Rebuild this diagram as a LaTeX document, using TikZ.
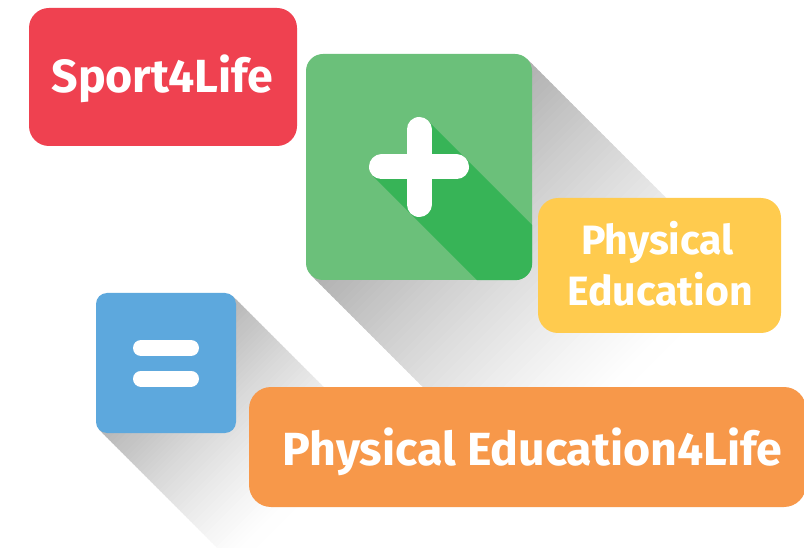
\documentclass[tikz,border=0pt]{standalone}
\usepackage{fontspec}
\setmainfont{Fira Sans}
\usetikzlibrary{calc}
\definecolor{redc}{HTML}{EF4150}
\definecolor{greenl}{HTML}{6BC07A}
\definecolor{greend}{HTML}{37B457}
\definecolor{yellowc}{HTML}{FFCB4E}
\definecolor{bluec}{HTML}{5DA8DD}
\definecolor{orangec}{HTML}{F7984A}
\begin{document}
\begin{tikzpicture}[x=1pt,y=-1pt,
  box/.style={rectangle, inner sep=0pt, draw=none},
  lbl/.style={text=white, font=\bfseries\fontsize{46.5}{50}\selectfont, anchor=base, inner sep=0pt},
  lbly/.style={text=white, font=\bfseries\fontsize{41}{45}\selectfont, anchor=base, inner sep=0pt},
  bar/.style={white, line cap=round}]
\useasboundingbox (0,0) rectangle (804,548);
\clip (0,0) rectangle (804,548);
\fill[white] (0,0) rectangle (804,548);
% long shadow of the green square
\coordinate (gtr) at (527.02,58.98);
\coordinate (gbl) at (310.98,275.02);
\foreach \t in {0,4,...,208} {
  \pgfmathsetmacro\p{31*(1-\t/212)^1.3}
  \fill[black!\p!white] ($(gtr)+(\t,\t)$) -- ($(gtr)+(\t+6,\t+6)$) -- ($(gbl)+(\t+6,\t+6)$) -- ($(gbl)+(\t,\t)$) -- cycle;
}
% long shadow of the blue square
\coordinate (btr) at (232.78,296.22);
\coordinate (bbl) at (99.22,429.78);
\foreach \t in {0,3,...,132} {
  \pgfmathsetmacro\p{28.6*(1-\t/135)^1.3}
  \fill[black!\p!white] ($(btr)+(\t,\t)$) -- ($(btr)+(\t+5,\t+5)$) -- ($(bbl)+(\t+5,\t+5)$) -- ($(bbl)+(\t,\t)$) -- cycle;
}
% boxes
\node[box, fill=redc, minimum width=268pt, minimum height=138pt, rounded corners=20pt] (sport) at (163,77) {};
\node[box, fill=greenl, minimum width=226pt, minimum height=226pt, rounded corners=17pt] (plusbox) at (419,167) {};
\begin{scope}
  \clip[rounded corners=17pt] (plusbox.south west) rectangle (plusbox.north east);
  \coordinate (ptop) at (427.84,120.66);
  \coordinate (pleft) at (372.66,175.84);
  \coordinate (pc) at (419,167);
  \fill[greend] (ptop) -- ($(ptop)+(300,300)$) -- ($(pleft)+(300,300)$) -- (pleft) -- (pc) -- cycle;
\end{scope}
\draw[bar, line width=25pt] (419,129.5) -- (419,204.5);
\draw[bar, line width=25pt] (381.5,167) -- (456.5,167);
\node[box, fill=yellowc, minimum width=243pt, minimum height=135pt, rounded corners=20pt] (pe) at (659.5,265.5) {};
\node[box, fill=bluec, minimum width=140pt, minimum height=140pt, rounded corners=11pt] (eqbox) at (166,363) {};
\draw[bar, line width=16pt] (141,348) -- (191,348);
\draw[bar, line width=16pt] (141,378.5) -- (191,378.5);
\node[box, fill=orangec, minimum width=557pt, minimum height=120pt, rounded corners=22pt] (pe4l) at (527.5,447) {};
% labels
\node[lbl] (t1) at (162.5,93) {Sport4Life};
\node[lbly] (t2) at (657.5,255) {Physical};
\node[lbly] (t3) at (660,306) {Education};
\node[lbl] (t4) at (532.5,465) {Physical Education4Life};
\end{tikzpicture}
\end{document}
